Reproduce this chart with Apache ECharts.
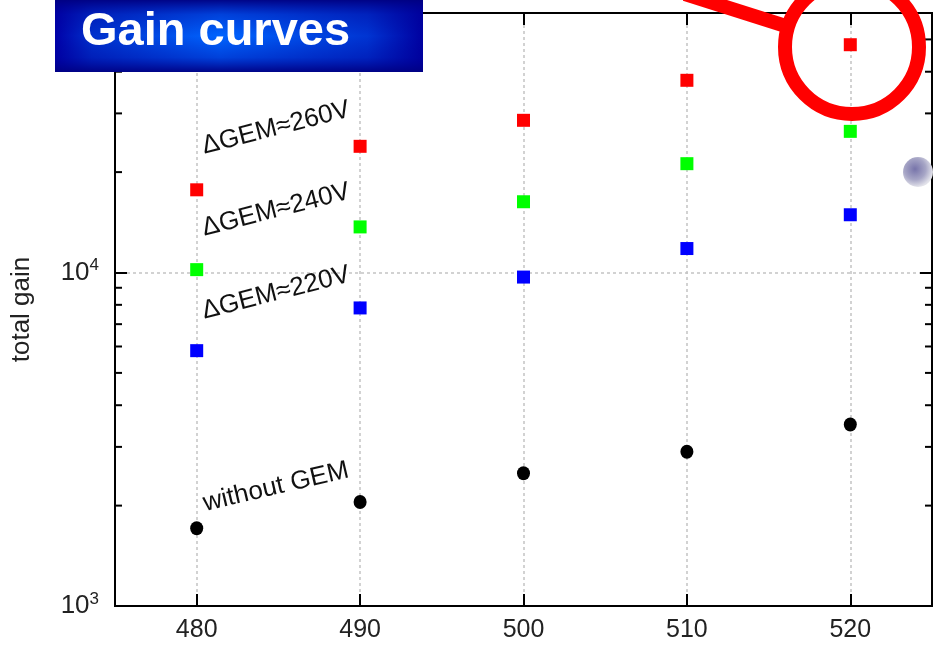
<!DOCTYPE html>
<html>
<head>
<meta charset="utf-8">
<script src="https://cdn.jsdelivr.net/npm/echarts@6/dist/echarts.min.js"></script>
<style>html,body{margin:0;padding:0;background:#fff}#c{width:936px;height:648px}</style>
</head>
<body>
<div id="c"></div>
<script>
// ---- data ----
const voltages = [480, 490, 500, 510, 520];
const gem260 = [17700, 23900, 28600, 37700, 48200];
const gem240 = [10200, 13700, 16300, 21200, 26500];
const gem220 = [5830, 7830, 9690, 11800, 14900];
const withoutGem = [1710, 2050, 2500, 2900, 3500];
const minorTickValues = [2000, 3000, 4000, 5000, 6000, 7000, 8000, 9000, 20000, 30000, 40000, 50000];
const curveLabels = ['ΔGEM≈260V', 'ΔGEM≈240V', 'ΔGEM≈220V', 'without GEM'];
const titleText = 'Gain curves';
const yName = 'total gain';

const X_MIN = 475, X_MAX = 525, Y_MIN = 1000, Y_MAX = 60000;
const pair = arr => voltages.map((v, i) => [v, arr[i]]);

const chart = echarts.init(document.getElementById('c'), null, {renderer: 'canvas'});
const fontMain = "'Liberation Sans', Arial, sans-serif";
const fontNarrow = "'Liberation Sans Narrow', 'Liberation Sans', Arial, sans-serif";

const logFmt = v => {
  const e = Math.log10(v);
  if (Math.abs(e - Math.round(e)) < 1e-6) return '{b|10}{s|' + Math.round(e) + '}';
  return '';
};

const xBase = {
  type: 'value', min: X_MIN, max: X_MAX,
  axisLine: {show: true, lineStyle: {color: '#000', width: 2}},
  axisTick: {show: true, inside: true, length: 12, lineStyle: {color: '#000', width: 2}},
  splitLine: {show: false}
};
const yBase = {
  type: 'log', logBase: 10, min: Y_MIN, max: Y_MAX,
  axisLine: {show: true, lineStyle: {color: '#000', width: 2}},
  axisTick: {show: true, inside: true, length: 12, lineStyle: {color: '#000', width: 2}},
  splitLine: {show: false}
};
const gridLine = {show: true, lineStyle: {color: '#c4c4c4', type: [3, 3], width: 1.5}};

const option = {
  animation: false,
  backgroundColor: '#fff',
  grid: {left: 115, right: 4, top: 13, bottom: 42, show: true, borderColor: '#000', borderWidth: 2,
         backgroundColor: 'transparent', outerBoundsMode: 'none', containLabel: false},
  xAxis: [
    Object.assign({}, xBase, {
      position: 'bottom',
      axisLabel: {
        margin: 12, fontSize: 25, fontFamily: fontNarrow, color: '#222',
        formatter: v => (v % 10 === 0 ? String(v) : '')
      },
      splitLine: gridLine
    }),
    Object.assign({}, xBase, {position: 'top', axisLabel: {show: false}})
  ],
  yAxis: [
    Object.assign({}, yBase, {
      position: 'left',
      name: yName, nameLocation: 'middle', nameRotate: 90, nameGap: 80,
      nameTextStyle: {fontSize: 26, fontFamily: fontMain, color: '#222'},
      axisLabel: {
        margin: 16, formatter: logFmt,
        rich: {
          b: {fontSize: 26, fontFamily: fontMain, color: '#222'},
          s: {fontSize: 17, fontFamily: fontMain, color: '#222', verticalAlign: 'top', padding: [0, 0, 14, 0]}
        }
      },
      splitLine: gridLine
    }),
    Object.assign({}, yBase, {position: 'right', axisLabel: {show: false}})
  ],
  series: [
    {name: 'minor', type: 'custom', xAxisIndex: 0, yAxisIndex: 0, silent: true,
     data: minorTickValues.map(v => [X_MIN, v]),
     renderItem: (params, api) => {
       const cs = params.coordSys;
       const y = api.coord([X_MIN, api.value(1)])[1];
       const st = {stroke: '#000', lineWidth: 2};
       return {type: 'group', children: [
         {type: 'line', shape: {x1: cs.x, y1: y, x2: cs.x + 7, y2: y}, style: st},
         {type: 'line', shape: {x1: cs.x + cs.width - 7, y1: y, x2: cs.x + cs.width, y2: y}, style: st}
       ]};
     }},
    {name: curveLabels[0], type: 'scatter', data: pair(gem260), symbol: 'rect', symbolSize: 13, itemStyle: {color: '#ff0000', opacity: 1}},
    {name: curveLabels[1], type: 'scatter', data: pair(gem240), symbol: 'rect', symbolSize: 13, itemStyle: {color: '#00ff00', opacity: 1}},
    {name: curveLabels[2], type: 'scatter', data: pair(gem220), symbol: 'rect', symbolSize: 13, itemStyle: {color: '#0000ff', opacity: 1}},
    {name: curveLabels[3], type: 'scatter', data: pair(withoutGem), symbol: 'circle', symbolSize: [13, 14], itemStyle: {color: '#000', opacity: 1}}
  ],
  graphic: [
    // annotations
    {type: 'text', x: 276, y: 128, rotation: 0.25, style: {text: curveLabels[0], font: '26px ' + fontMain, fill: '#111', align: 'center', verticalAlign: 'middle'}, z: 50},
    {type: 'text', x: 276, y: 210, rotation: 0.25, style: {text: curveLabels[1], font: '26px ' + fontMain, fill: '#111', align: 'center', verticalAlign: 'middle'}, z: 50},
    {type: 'text', x: 276, y: 293, rotation: 0.25, style: {text: curveLabels[2], font: '26px ' + fontMain, fill: '#111', align: 'center', verticalAlign: 'middle'}, z: 50},
    {type: 'text', x: 276, y: 487, rotation: 0.23, style: {text: curveLabels[3], font: '26px ' + fontMain, fill: '#111', align: 'center', verticalAlign: 'middle'}, z: 50},
    // title box
    {type: 'rect', shape: {x: 55, y: 0, width: 368, height: 72}, z: 100,
     style: {fill: {type: 'linear', x: 0, y: 0, x2: 1, y2: 0, colorStops: [
       {offset: 0, color: '#0000a8'}, {offset: 0.1, color: '#0030cc'}, {offset: 0.45, color: '#0064ff'},
       {offset: 0.85, color: '#0034d2'}, {offset: 1, color: '#0000a0'}]}}},
    {type: 'rect', shape: {x: 55, y: 0, width: 368, height: 72}, z: 100,
     style: {fill: {type: 'linear', x: 0, y: 0, x2: 0, y2: 1, colorStops: [
       {offset: 0, color: 'rgba(0,0,130,0.95)'}, {offset: 0.2, color: 'rgba(0,0,150,0.35)'},
       {offset: 0.5, color: 'rgba(0,0,150,0)'}, {offset: 0.8, color: 'rgba(0,0,150,0.35)'},
       {offset: 1, color: 'rgba(0,0,130,0.95)'}]}}},
    {type: 'text', x: 81, y: 32, z: 101, style: {text: titleText, font: 'bold 47px ' + fontMain, fill: '#fff', verticalAlign: 'middle'}},
    // red magnifier
    {type: 'line', shape: {x1: 685, y1: -6, x2: 792, y2: 28}, z: 90, style: {stroke: '#ff0000', lineWidth: 14}},
    {type: 'circle', shape: {cx: 852, cy: 47, r: 67}, z: 91, style: {fill: 'none', stroke: '#ff0000', lineWidth: 14}},
    // grey ball
    {type: 'circle', shape: {cx: 918, cy: 172, r: 15}, z: 60, style: {fill: {type: 'radial', x: 0.4, y: 0.4, r: 0.6, colorStops: [
       {offset: 0, color: '#7774aa'}, {offset: 0.6, color: '#a7a6c6'}, {offset: 1, color: '#e2e2ea'}]}}}
  ]
};
chart.setOption(option);
</script>
</body>
</html>
